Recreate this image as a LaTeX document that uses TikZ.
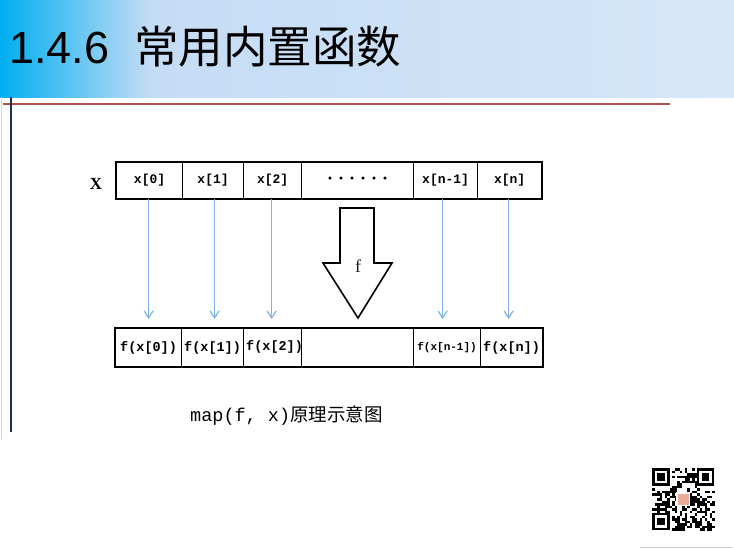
\documentclass[tikz,border=0pt]{standalone}
\usepackage{fontspec}
\setmainfont{Liberation Serif}
\newfontfamily\titlefont{Liberation Sans}
\newfontfamily\cjk{Noto Sans CJK SC}
\newfontfamily\monof{Liberation Mono}
\usetikzlibrary{arrows.meta,shapes.geometric}
\definecolor{hdcyan}{HTML}{00AEEF}
\definecolor{hdlight}{HTML}{C4DCF5}
\definecolor{hdlighter}{HTML}{D6E7F8}
\definecolor{redline}{HTML}{B0504F}
\definecolor{navy}{HTML}{1F2D5C}
\definecolor{arrblue}{HTML}{7DB2EC}
\tikzset{
  cell/.style={draw=black, line width=1.2pt, minimum height=36pt, inner sep=0pt, anchor=north west, font=\monof\bfseries\fontsize{13}{14}\selectfont},
  bcell/.style={cell, minimum height=38pt, font=\monof\bfseries\fontsize{13.5}{14}\selectfont},
  maparrow/.style={draw=arrblue, line width=1.2pt, -{Straight Barb[length=7pt,width=9pt,line width=1.2pt]}, shorten >=9pt},
}
\begin{document}
\begin{tikzpicture}[x=1pt,y=-1pt]
\useasboundingbox (0,0) rectangle (734,549);
\fill[white] (0,0) rectangle (734,549);
% header band
\shade[left color=hdcyan, right color=hdlight] (0,0) rectangle (150,97);
\shade[left color=hdlight, right color=hdlighter] (150,0) rectangle (734,97);
\node[anchor=base west, inner sep=0pt, font=\titlefont\fontsize{45}{45}\selectfont] (num) at (9,63) {1.4.6};
\node[anchor=base west, inner sep=0pt, font=\cjk\fontsize{44.5}{44.5}\selectfont] (ttl) at (134,63) {常用内置函数};
% rules
\draw[redline, line width=1.5pt] (3,104) -- (670,104);
\draw[navy, line width=1.6pt] (11,97) -- (11,432);
\draw[black!15, line width=0.8pt] (1,97) -- (1,440);
% top array
\node[font=\bfseries\fontsize{17}{17}\selectfont] (X) at (96,184) {X};
\node[cell, minimum width=66pt] (t0) at (116,162) {x[0]};
\node[cell, minimum width=61pt] (t1) at (182,162) {x[1]};
\node[cell, minimum width=58pt] (t2) at (243,162) {x[2]};
\node[cell, minimum width=112pt, font=\bfseries\fontsize{18}{18}\selectfont] (t3) at (301,162) {·\hspace{5pt}·\hspace{5pt}·\hspace{5pt}·\hspace{5pt}·\hspace{5pt}·};
\node[cell, minimum width=64pt] (t4) at (413,162) {x[n-1]};
\node[cell, minimum width=64pt] (t5) at (477,162) {x[n]};
\draw[line width=2.2pt] (t0.north west) rectangle (t5.south east);
% bottom array
\node[bcell, minimum width=66pt] (b0) at (115,328) {f(x[0])};
\node[bcell, minimum width=62pt] (b1) at (181,328) {f(x[1])};
\node[bcell, minimum width=58pt] (b2) at (243,328) {};
\node[anchor=west, inner sep=0pt, font=\monof\bfseries\fontsize{13.5}{14}\selectfont] (b2t) at (246,347) {f(x[2])};
\node[bcell, minimum width=112pt, fill=white] (b3) at (301,328) {};
\node[bcell, minimum width=67pt, font=\monof\bfseries\fontsize{11}{12}\selectfont] (b4) at (413,328) {f(x[n-1])};
\node[bcell, minimum width=62pt] (b5) at (480,328) {f(x[n])};
\draw[line width=2.2pt] (b0.north west) rectangle (b5.south east);
% thin arrows
\draw[maparrow] ([xshift=-1pt]t0.south) -- ([xshift=-1pt]t0.south |- b0.north);
\draw[maparrow] ([xshift=1.5pt]t1.south) -- ([xshift=1.5pt]t1.south |- b1.north);
\draw[maparrow] ([xshift=-1pt]t2.south) -- ([xshift=-1pt]t2.south |- b2.north);
\draw[maparrow] ([xshift=-3pt]t4.south) -- ([xshift=-3pt]t4.south |- b4.north);
\draw[maparrow] ([xshift=-1pt]t5.south) -- ([xshift=-1pt]t5.south |- b5.north);
% big hollow arrow
\coordinate (fa) at (358,318);
\draw[line width=1.6pt, fill=white, line join=miter] (340,208) -- (374,208) -- (374,263) -- (392,263) -- (fa) -- (323,263) -- (340,263) -- cycle;
\node[font=\fontsize{18}{18}\selectfont, text=black!80!brown] (f) at (358,266) {f};
% caption
\node[anchor=base west, inner sep=0pt, font=\monof\fontsize{18.5}{19}\selectfont] (cap) at (190,421) {map(f, x)\cjk 原理示意图};
% QR code
\begin{scope}
\pgfmathsetseed{7}
\foreach \i in {0,...,24}{
  \foreach \j in {0,...,24}{
    \pgfmathrandominteger{\r}{0}{1}
    \ifnum\r=1 \fill[black] (652+\i*2.5,468+\j*2.5) rectangle ++(2.5,2.5);\fi
  }
}
\foreach \px/\py in {652/468, 696.5/468, 652/512.5}{
  \fill[white] (\px,\py) rectangle ++(20,20);
  \fill[black] (\px,\py) rectangle ++(17.5,17.5);
  \fill[white] (\px+2.5,\py+2.5) rectangle ++(12.5,12.5);
  \fill[black] (\px+5,\py+5) rectangle ++(7.5,7.5);
}
\fill[white] (676,492) rectangle ++(14,14);
\fill[red!30!brown!50!white] (677.5,493.5) rectangle ++(11,11);
\end{scope}
\draw[black!20, line width=0.8pt] (640,547) -- (732,547);
\end{tikzpicture}
\end{document}
